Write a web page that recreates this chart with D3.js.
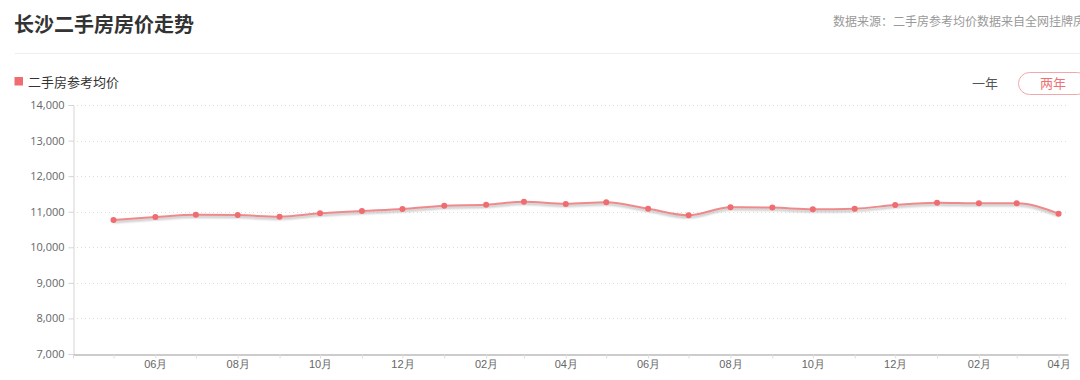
<!DOCTYPE html>
<html>
<head>
<meta charset="utf-8">
<script src="https://cdn.jsdelivr.net/npm/d3@7"></script>
<style>
  html, body { margin: 0; padding: 0; background: #fff; overflow: hidden; }
  svg { display: block; font-family: "Noto Sans CJK SC", "Noto Sans", sans-serif; }
</style>
</head>
<body>
<svg id="chart" width="1080" height="380"></svg>
<script>
// Chart data (monthly reference price, yuan/m2)
const months = [
  "2017-05", "2017-06", "2017-07", "2017-08", "2017-09", "2017-10",
  "2017-11", "2017-12", "2018-01", "2018-02", "2018-03", "2018-04",
  "2018-05", "2018-06", "2018-07", "2018-08", "2018-09", "2018-10",
  "2018-11", "2018-12", "2019-01", "2019-02", "2019-03", "2019-04"
];
const prices = [
  10770, 10850, 10915, 10905, 10860, 10955, 11020, 11075, 11170, 11195, 11280, 11220,
  11265, 11085, 10900, 11125, 11115, 11070, 11085, 11190, 11255, 11235, 11235, 10945
];
const yTicks = [7000, 8000, 9000, 10000, 11000, 12000, 13000, 14000];
const title = "长沙二手房房价走势";
const sourceText = "数据来源：二手房参考均价数据来自全网挂牌房源，仅供参考";
const seriesName = "二手房参考均价";
const rangeButtons = ["一年", "两年"];

const parseMonth = d3.timeParse("%Y-%m");
const data = months.map((m, i) => ({ date: parseMonth(m), value: prices[i] }));

const svg = d3.select("#chart");

// Header
svg.append("text")
  .attr("x", 14).attr("y", 32)
  .style("font-size", "20px").style("font-weight", "bold")
  .attr("fill", "#333")
  .text(title);

svg.append("text")
  .attr("x", 833).attr("y", 26)
  .style("font-size", "12px")
  .attr("fill", "#999")
  .text(sourceText);

svg.append("line")
  .attr("x1", 15).attr("x2", 1080)
  .attr("y1", 53.5).attr("y2", 53.5)
  .attr("stroke", "#eeeeee");

// Legend
svg.append("rect")
  .attr("x", 14.5).attr("y", 77)
  .attr("width", 8.5).attr("height", 8.5)
  .attr("fill", "#ef6d70");
svg.append("text")
  .attr("x", 28).attr("y", 87)
  .style("font-size", "13px")
  .attr("fill", "#333")
  .text(seriesName);

// Range buttons
svg.append("text")
  .attr("x", 985).attr("y", 88)
  .attr("text-anchor", "middle")
  .style("font-size", "13px")
  .attr("fill", "#555")
  .text(rangeButtons[0]);
svg.append("rect")
  .attr("x", 1018.5).attr("y", 72.5)
  .attr("width", 70).attr("height", 22)
  .attr("rx", 11)
  .attr("fill", "#fff")
  .attr("stroke", "#f0a8aa");
svg.append("text")
  .attr("x", 1053).attr("y", 88)
  .attr("text-anchor", "middle")
  .style("font-size", "13px")
  .attr("fill", "#ec7275")
  .text(rangeButtons[1]);

// Scales
const plot = { left: 73, right: 1068, top: 105, bottom: 354 };

const xScale = d3.scaleTime()
  .domain([new Date(2017, 3, 1), new Date(2019, 3, 8)])
  .range([plot.left, plot.right]);

const yScale = d3.scaleLinear()
  .domain([7000, 14000])
  .range([plot.bottom, plot.top]);

// Grid lines
svg.append("g")
  .selectAll("line")
  .data(yTicks.filter(d => d > 7000))
  .enter().append("line")
  .attr("x1", plot.left).attr("x2", plot.right)
  .attr("y1", d => Math.round(yScale(d)) + 0.5)
  .attr("y2", d => Math.round(yScale(d)) + 0.5)
  .attr("stroke", "#dcdcdc")
  .attr("stroke-dasharray", "1,3");

// Y axis
const yAxis = svg.append("g")
  .attr("transform", `translate(${plot.left + 0.5},0)`)
  .call(d3.axisLeft(yScale).tickValues(yTicks).tickSize(5).tickPadding(4).tickFormat(d3.format(",")));
yAxis.select(".domain").attr("stroke", "#d5d5d5");
yAxis.selectAll(".tick line").attr("stroke", "#d5d5d5");
yAxis.selectAll("text").attr("fill", "#666").style("font-size", "11px")
  .style("font-family", "'Open Sans', 'Noto Sans', sans-serif");

// X axis: a tick every month, label every other month (first tick unlabelled)
const monthTicks = d3.timeMonth.range(new Date(2017, 3, 1), new Date(2019, 3, 2));
const firstTick = monthTicks[0];
const xAxis = svg.append("g")
  .attr("transform", `translate(0,${plot.bottom + 0.5})`)
  .call(d3.axisBottom(xScale)
    .tickValues(monthTicks)
    .tickSize(4)
    .tickSizeOuter(0)
    .tickPadding(2)
    .tickFormat(d => (d > firstTick && d.getMonth() % 2 === 1) ? d3.timeFormat("%m")(d) + "月" : ""));
xAxis.select(".domain").attr("stroke", "#999");
xAxis.selectAll(".tick line").attr("stroke", "#ddd");
xAxis.selectAll("text").attr("fill", "#666").style("font-size", "11px");

// Line
const line = d3.line()
  .x(d => xScale(d.date))
  .y(d => yScale(d.value))
  .curve(d3.curveMonotoneX);

const defs = svg.append("defs");
defs.append("filter")
  .attr("id", "shadow")
  .attr("x", "-5%").attr("y", "-50%").attr("width", "110%").attr("height", "200%")
  .append("feGaussianBlur")
  .attr("stdDeviation", 1.2);

svg.append("path")
  .datum(data)
  .attr("fill", "none")
  .attr("stroke", "#aaa")
  .attr("stroke-width", 2)
  .attr("opacity", 0.8)
  .attr("transform", "translate(0,2)")
  .attr("filter", "url(#shadow)")
  .attr("d", line);

svg.append("path")
  .datum(data)
  .attr("fill", "none")
  .attr("stroke", "#ee8a8c")
  .attr("stroke-width", 2)
  .attr("d", line);

svg.append("g")
  .selectAll("circle")
  .data(data)
  .enter().append("circle")
  .attr("cx", d => xScale(d.date))
  .attr("cy", d => yScale(d.value))
  .attr("r", 3)
  .attr("fill", "#ef6d70");
</script>
</body>
</html>
